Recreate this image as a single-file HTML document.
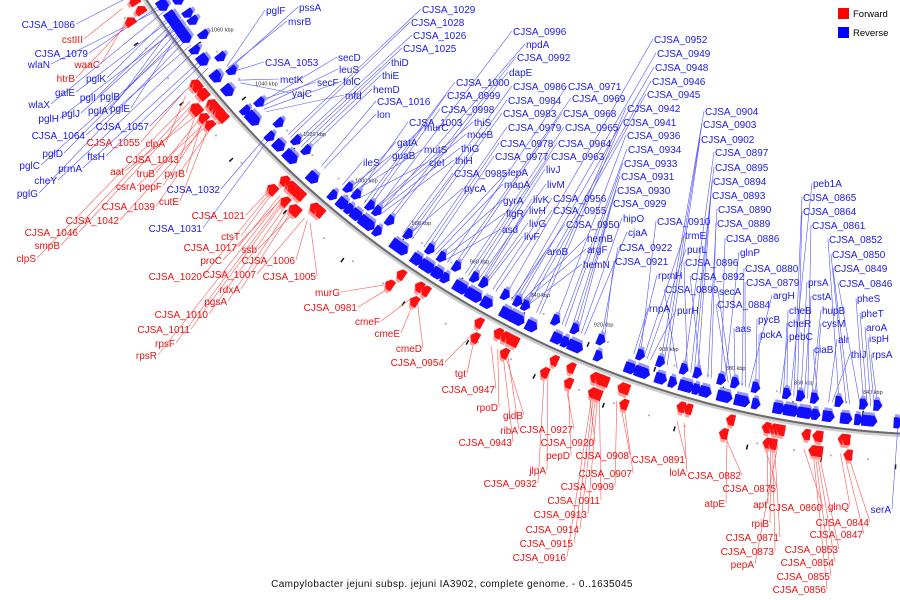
<!DOCTYPE html>
<html><head><meta charset="utf-8"><style>
html,body{margin:0;padding:0;background:#fff;}
svg{display:block;font-family:"Liberation Sans",sans-serif;}
</style></head><body>
<svg id="chart" width="900" height="600" viewBox="0 0 900 600" xmlns="http://www.w3.org/2000/svg">
<g id="backbone"></g>
<g id="ticks"></g>
<g id="leaders"></g>
<g id="features"></g>
<g id="labels"></g>
<g>
<rect x="838" y="8" width="11" height="11" fill="#ff0000"/>
<text x="853" y="17" font-size="9.5" fill="#000">Forward</text>
<rect x="838" y="27" width="11" height="11" fill="#0000ff"/>
<text x="853" y="36" font-size="9.5" fill="#000">Reverse</text>
</g>
<text x="452" y="587" font-size="10" text-anchor="middle" letter-spacing="0.4" fill="#111">Campylobacter jejuni subsp. jejuni IA3902, complete genome. - 0..1635045</text>
</svg>
<script>
// tick data
const tickKbp = [840, 860, 880, 900, 920, 940, 960, 980, 1000, 1020, 1040, 1060];
const tickLabels = ["840 kbp","860 kbp","880 kbp","900 kbp","920 kbp","940 kbp","960 kbp","980 kbp","1000 kbp","1020 kbp","1040 kbp","1060 kbp"];
// forward-strand genes: name, kbp
const forwardGenes = [
["cstIII",1080],["waaC",1077],["htrB",1076],
["CJSA_1055",1052],["clpA",1051],["CJSA_1043",1046],["aat",1045],["truB",1044],["pyrB",1043.5],["csrA",1042],["pepF",1042.5],["cutE",1041],["CJSA_1039",1040],["CJSA_1042",1041.5],["CJSA_1046",1047],["smpB",1048],["clpS",1049],
["CJSA_1021",1017],["ctsT",1016],["CJSA_1017",1014],["ssb",1008],["proC",1013],["CJSA_1006",1004],["CJSA_1020",1016.5],["CJSA_1007",1005],["CJSA_1005",1003],["rdxA",1009],["pgsA",1010],["CJSA_1010",1011],["CJSA_1011",1012],["rpsF",1012.5],["rpsR",1013.2],
["murG",976],["CJSA_0981",975],["cmeF",969],["cmeE",968],["cmeD",967],["CJSA_0954",950],["tgt",949],["CJSA_0947",944],["rpoD",942],["gidB",940],["ribA",939],["CJSA_0943",940.5],
["CJSA_0932",928],["jlpA",927],["CJSA_0927",922],["pepD",921],["CJSA_0920",915],["CJSA_0908",906],["CJSA_0907",905],["CJSA_0909",907],["CJSA_0911",912],["CJSA_0913",912.5],["CJSA_0914",913],["CJSA_0915",913.5],["CJSA_0916",914],
["CJSA_0891",890],["lolA",888],["CJSA_0882",877],["atpE",876],["CJSA_0875",866],["apt",865],["rpiB",864],["CJSA_0871",863],["CJSA_0873",863.5],["pepA",862],
["CJSA_0860",855],["CJSA_0853",851],["CJSA_0854",851.5],["CJSA_0855",852],["CJSA_0856",852.5],["glnQ",845],["CJSA_0847",844],["CJSA_0844",843]
];
// reverse-strand genes: name, kbp
const reverseGenes = [
["CJSA_1086",1081],["CJSA_1079",1075],["wlaN",1074],["wlaX",1073],["pglK",1071],["galE",1070],["pglI",1069],["pglB",1068.5],["pglJ",1067.5],["pglH",1067],["pglA",1066.5],["pglE",1066],["pglD",1065],["pglC",1064],["pglG",1063],["CJSA_1064",1061],["cheY",1059],["prmA",1056],["ftsH",1055],["CJSA_1057",1053],
["pglF",1050],["pssA",1049],["msrB",1049.5],["CJSA_1053",1048],["metK",1045],["yajC",1044],["secF",1037],["secD",1036],["leuS",1035],["folC",1034],["mfd",1033],["CJSA_1032",1028],["CJSA_1031",1027],
["CJSA_1029",1024],["CJSA_1028",1023],["CJSA_1026",1021],["CJSA_1025",1020],["thiD",1019],["thiE",1018],["hemD",1017],["CJSA_1016",1011],["lon",1010],["ileS",1003],["guaB",1001],["gatA",1000],["mutS",999.5],["murC",999],["CJSA_1003",998],["cjeI",997],
["CJSA_1000",995],["CJSA_0999",994],["CJSA_0998",993],["thiS",992],["moeB",991.5],["CJSA_0996",991],["thiG",990.5],["npdA",990],["thiH",989.5],["CJSA_0992",987],["dapE",986],["CJSA_0986",981],["CJSA_0985",980],["CJSA_0984",979],["pycA",979.5],["CJSA_0983",978],
["CJSA_0979",974],["CJSA_0978",973],["CJSA_0977",972],["lepA",971],["mapA",970],["gyrA",969],["flgR",968],["asd",967],["CJSA_0971",966],["CJSA_0969",964],["CJSA_0968",963],["CJSA_0965",960],["CJSA_0964",959],["CJSA_0963",958],
["livJ",957],["livM",956],["livK",955],["livH",954.5],["livG",954],["livF",953.5],["CJSA_0956",951],["CJSA_0955",950],["CJSA_0952",947],["CJSA_0950",945],["CJSA_0949",944.5],["aroB",944],["CJSA_0948",943],["hemB",942.5],["argF",942],["CJSA_0946",941],["hemN",940.5],["CJSA_0945",940],
["CJSA_0942",937],["CJSA_0941",936],["CJSA_0936",931],["CJSA_0934",929],["CJSA_0933",928],["CJSA_0931",926],["CJSA_0930",925],["CJSA_0929",924],["hipO",923],["cjaA",922],["CJSA_0922",917],["CJSA_0921",916],
["rnpA",907],["rpmH",906],["CJSA_0910",905],["trmE",904],["purL",903],["purH",902],["CJSA_0904",899],["CJSA_0903",898],["CJSA_0902",897],["CJSA_0899",894],["CJSA_0897",892],["CJSA_0896",891],["CJSA_0895",890],["CJSA_0894",889],["CJSA_0893",888],["CJSA_0892",887],["CJSA_0890",885],["CJSA_0889",884],
["CJSA_0886",881],["glnP",880],["CJSA_0884",879],["secA",878],["aas",877],["CJSA_0880",875],["CJSA_0879",874],["argH",873],["pycB",871],["pckA",870],
["pebC",864],["cheR",863],["cheB",862],["peb1A",861],["CJSA_0865",860],["CJSA_0864",859],["prsA",858],["cstA",857],["CJSA_0861",856],["hupB",855],["cysM",854],["ciaB",853],["alr",850],["thiJ",849],["CJSA_0852",847],["CJSA_0850",845],["CJSA_0849",844],["CJSA_0846",841],["pheS",840],["pheT",839],["aroA",838],["ispH",837],["rpsA",836],["serA",830]
];
// label layout (text anchor points, not data)
const labelLayout = {
"cstIII":[83,43],"waaC":[100,68],"htrB":[75,82],"CJSA_1055":[140,146],"clpA":[165,147],"CJSA_1043":[179,163],"aat":[124,175],"truB":[155,177],"pyrB":[185,177],"csrA":[136,190],"pepF":[162,190],"cutE":[179,205],"CJSA_1039":[155,210],"CJSA_1042":[119,224],"CJSA_1046":[78,236],"smpB":[60,249],"clpS":[36,262],
"CJSA_1021":[245,219],"ctsT":[240,240],"CJSA_1017":[237,251],"ssb":[257,253],"proC":[222,264],"CJSA_1006":[295,264],"CJSA_1020":[202,280],"CJSA_1007":[256,278],"CJSA_1005":[316,280],"rdxA":[240,293],"pgsA":[227,305],"CJSA_1010":[208,318],"CJSA_1011":[190,333],"rpsF":[175,347],"rpsR":[157,359],
"murG":[340,296],"CJSA_0981":[357,311],"cmeF":[380,325],"cmeE":[400,337],"cmeD":[422,352],"CJSA_0954":[444,366],"tgt":[466,377],"CJSA_0947":[495,393],"rpoD":[498,411],"gidB":[523,419],"ribA":[518,434],"CJSA_0943":[512,446],
"CJSA_0932":[537,487],"jlpA":[546,474],"CJSA_0927":[573,433],"pepD":[570,459],"CJSA_0920":[594,446],"CJSA_0908":[629,459],"CJSA_0907":[632,477],"CJSA_0909":[614,490],"CJSA_0911":[600,504],"CJSA_0913":[587,518],"CJSA_0914":[579,533],"CJSA_0915":[573,547],"CJSA_0916":[566,561],
"CJSA_0891":[685,463],"lolA":[686,476],"CJSA_0882":[741,479],"atpE":[725,507],"CJSA_0875":[776,492],"apt":[767,508],"rpiB":[769,527],"CJSA_0871":[779,541],"CJSA_0873":[774,555],"pepA":[754,568],
"CJSA_0860":[822,511],"CJSA_0853":[838,553],"CJSA_0854":[834,566],"CJSA_0855":[830,580],"CJSA_0856":[826,593],"glnQ":[849,510],"CJSA_0847":[863,538],"CJSA_0844":[869,526],
"CJSA_1086":[75,28],"CJSA_1079":[88,57],"wlaN":[50,68],"wlaX":[50,108],"pglK":[106,82],"galE":[75,96],"pglI":[96,101],"pglB":[120,100],"pglJ":[80,117],"pglH":[59,122],"pglA":[108,114],"pglE":[130,112],"pglD":[63,157],"pglC":[40,169],"pglG":[38,197],"CJSA_1064":[85,139],"cheY":[57,184],"prmA":[82,172],"ftsH":[105,160],"CJSA_1057":[149,130],"CJSA_1032":[220,193],"CJSA_1031":[202,232],"serA":[891,513],
"pglF":[266,14],"pssA":[299,11],"msrB":[288,25],"CJSA_1053":[265,66],"metK":[280,83],"yajC":[292,97],"secF":[317,86],"secD":[338,61],"leuS":[339,73],"folC":[343,85],"mfd":[345,99],
"CJSA_1029":[422,13],"CJSA_1028":[411,26],"CJSA_1026":[413,39],"CJSA_1025":[403,52],"thiD":[391,66],"thiE":[382,79],"hemD":[373,93],"CJSA_1016":[377,105],"lon":[377,118],"ileS":[363,166],"guaB":[392,159],"gatA":[397,146],"mutS":[424,153],"murC":[424,131],"CJSA_1003":[409,126],"cjeI":[429,166],
"CJSA_1000":[456,86],"CJSA_0999":[447,99],"CJSA_0998":[441,113],"thiS":[474,126],"moeB":[467,138],"CJSA_0996":[513,35],"thiG":[461,152],"npdA":[526,48],"thiH":[455,164],"CJSA_0992":[517,61],"dapE":[509,76],"CJSA_0986":[513,90],"CJSA_0985":[454,177],"CJSA_0984":[508,104],"pycA":[464,192],"CJSA_0983":[503,117],
"CJSA_0979":[508,131],"CJSA_0978":[500,147],"CJSA_0977":[495,160],"lepA":[508,176],"mapA":[504,188],"gyrA":[503,204],"flgR":[506,217],"asd":[502,233],"CJSA_0971":[568,90],"CJSA_0969":[572,102],"CJSA_0968":[563,117],"CJSA_0965":[565,131],"CJSA_0964":[558,147],"CJSA_0963":[551,160],
"livJ":[546,173],"livM":[547,188],"livK":[533,203],"livH":[529,214],"livG":[529,227],"livF":[524,240],"CJSA_0956":[553,202],"CJSA_0955":[553,214],"CJSA_0952":[654,43],"CJSA_0950":[566,228],"CJSA_0949":[657,57],"aroB":[547,255],"CJSA_0948":[655,71],"hemB":[587,242],"argF":[587,253],"CJSA_0946":[652,85],"hemN":[583,268],"CJSA_0945":[647,98],
"CJSA_0942":[627,112],"CJSA_0941":[623,126],"CJSA_0936":[627,139],"CJSA_0934":[628,153],"CJSA_0933":[624,167],"CJSA_0931":[621,180],"CJSA_0930":[617,194],"CJSA_0929":[613,207],"hipO":[623,222],"cjaA":[628,236],"CJSA_0922":[619,251],"CJSA_0921":[615,265],
"rnpA":[649,312],"rpmH":[658,279],"CJSA_0910":[657,225],"trmE":[685,239],"purL":[687,253],"purH":[677,314],"CJSA_0904":[705,115],"CJSA_0903":[703,128],"CJSA_0902":[701,143],"CJSA_0899":[665,293],"CJSA_0897":[715,156],"CJSA_0896":[685,266],"CJSA_0895":[715,171],"CJSA_0894":[713,185],"CJSA_0893":[712,199],"CJSA_0892":[691,280],"CJSA_0890":[718,213],"CJSA_0889":[717,227],
"CJSA_0886":[726,242],"glnP":[740,256],"CJSA_0884":[717,308],"secA":[719,295],"aas":[735,332],"CJSA_0880":[745,272],"CJSA_0879":[746,286],"argH":[773,299],"pycB":[758,323],"pckA":[760,338],
"pebC":[789,340],"cheR":[788,327],"cheB":[789,314],"peb1A":[813,187],"CJSA_0865":[803,201],"CJSA_0864":[803,215],"prsA":[808,286],"cstA":[812,300],"CJSA_0861":[812,229],"hupB":[822,314],"cysM":[822,327],"ciaB":[814,353],"alr":[838,343],"thiJ":[851,358],"CJSA_0852":[829,243],"CJSA_0850":[832,258],"CJSA_0849":[834,272],"CJSA_0846":[839,287],"pheS":[857,302],"pheT":[861,317],"aroA":[866,331],"ispH":[869,342],"rpsA":[872,358]
};
const outsideBlue = ["CJSA_1086","CJSA_1079","wlaN","wlaX","pglK","galE","pglI","pglB","pglJ","pglH","pglA","pglE","pglD","pglC","pglG","CJSA_1064","cheY","prmA","ftsH","CJSA_1057","CJSA_1032","CJSA_1031","serA"];

const NS="http://www.w3.org/2000/svg";
const CX=953, CY=-530, R0=965;
function ang(k){return (95.45+(k-840)*0.215)*Math.PI/180;}
function P(k,r){const a=ang(k);return [CX+r*Math.cos(a), CY+r*Math.sin(a)];}
function mk(tag,attrs,parent){const e=document.createElementNS(NS,tag);for(const k in attrs)e.setAttribute(k,attrs[k]);parent.appendChild(e);return e;}

// backbone
const bb=document.getElementById('backbone');
function arcPath(r,k1,k2){const a=P(k1,r),b=P(k2,r);return `M${a[0]},${a[1]} A${r},${r} 0 0 0 ${b[0]},${b[1]}`;}
const sh=mk('path',{d:arcPath(R0+2,1095,815),fill:'none',stroke:'#cfcfcf','stroke-width':3},bb);


const ln=mk('path',{d:arcPath(R0,1095,815),fill:'none',stroke:'#6a6a6a','stroke-width':2},bb);



// ticks
const tg=document.getElementById('ticks');
for(let k=830;k<=1090;k+=5){
  if(k%10===0){
    const inner=(k%20===0);
    const r1=inner?945:996, r2=inner?950:1001;
    const a=P(k,r1),b=P(k,r2);
    const t=mk('line',{x1:a[0],y1:a[1],x2:b[0],y2:b[1],stroke:'#111','stroke-width':1.5},tg);
    
    
  } else {
    const a=P(k,938),b=P(k+2.5,993);
    const d1=mk('rect',{x:a[0]-1,y:a[1]-1,width:1.8,height:1.8,fill:'#aaa'},tg);
    
    
    const d2=mk('rect',{x:b[0]-1,y:b[1]-1,width:1.8,height:1.8,fill:'#aaa'},tg);
    
    
  }
}
tickKbp.forEach((k,i)=>{
  const p=P(k,928);
  const t=mk('text',{x:p[0]+8,y:p[1],'font-size':5.5,'text-anchor':'middle',fill:'#333'},tg);
  t.textContent=tickLabels[i];
  
  
});

// features
const fg=document.getElementById('features'), lg=document.getElementById('leaders'), tl=document.getElementById('labels');
function arrow(k,strand,r1,r2,col,lite){
  const L=1.25, dir=strand==='F'?1:-1;
  const tail=k-dir*L, neck=k+dir*0.2, head=k+dir*L, rm=(r1+r2)/2;
  const pts=[P(tail,r1),P(neck,r1),P(head,rm),P(neck,r2),P(tail,r2)];
  const s=pts.map(p=>p.join(',')).join(' ');
  const rs=strand==='F'? r2+3 : r1-3;
  const pts2=[P(tail+dir*0.3,rs),P(neck,rs),P(head,rm),P(neck,rm),P(tail+dir*0.3,rm)];
  const sh=mk('polygon',{points:pts2.map(p=>p.join(',')).join(' '),fill:lite},fg);
  
  
  const pg=mk('polygon',{points:s,fill:col},fg);
  
  
}
forwardGenes.forEach((g,i)=>{
  const tier=(i%3===2)?1:0;
  const r1=tier?985:970, r2=tier?996:981;
  arrow(g[1],'F',r1,r2,'#ff1010','#ffa0a0');
});
reverseGenes.forEach((g,i)=>{
  const tier=(i%4===3)?1:0;
  const r1=tier?933:949, r2=tier?944:960;
  arrow(g[1],'R',r1,r2,'#1010ff','#9a9aff');
});

function label(g,strand){
  const pos=labelLayout[g[0]]; if(!pos) return;
  const endA = strand==='F' || outsideBlue.includes(g[0]);
  const col = strand==='F' ? '#ee1111' : '#1a1aee';
  const lcol = strand==='F' ? '#ff5555' : '#5555ff';
  const tr = strand==='F' ? 990 : (outsideBlue.includes(g[0]) ? 955 : 940);
  const f=P(g[1],tr);
  const ax = endA ? pos[0]+1 : pos[0]-1, ay = pos[1]-4;
  const l=mk('line',{x1:f[0],y1:f[1],x2:ax,y2:ay,stroke:lcol,'stroke-width':0.6},lg);
  
  
  const t=mk('text',{x:pos[0],y:pos[1],'font-size':10,'text-anchor':endA?'end':'start',fill:col},tl);
  t.textContent=g[0];
  
  
}
forwardGenes.forEach(g=>label(g,'F'));
reverseGenes.forEach(g=>label(g,'R'));
</script>
</body></html>
